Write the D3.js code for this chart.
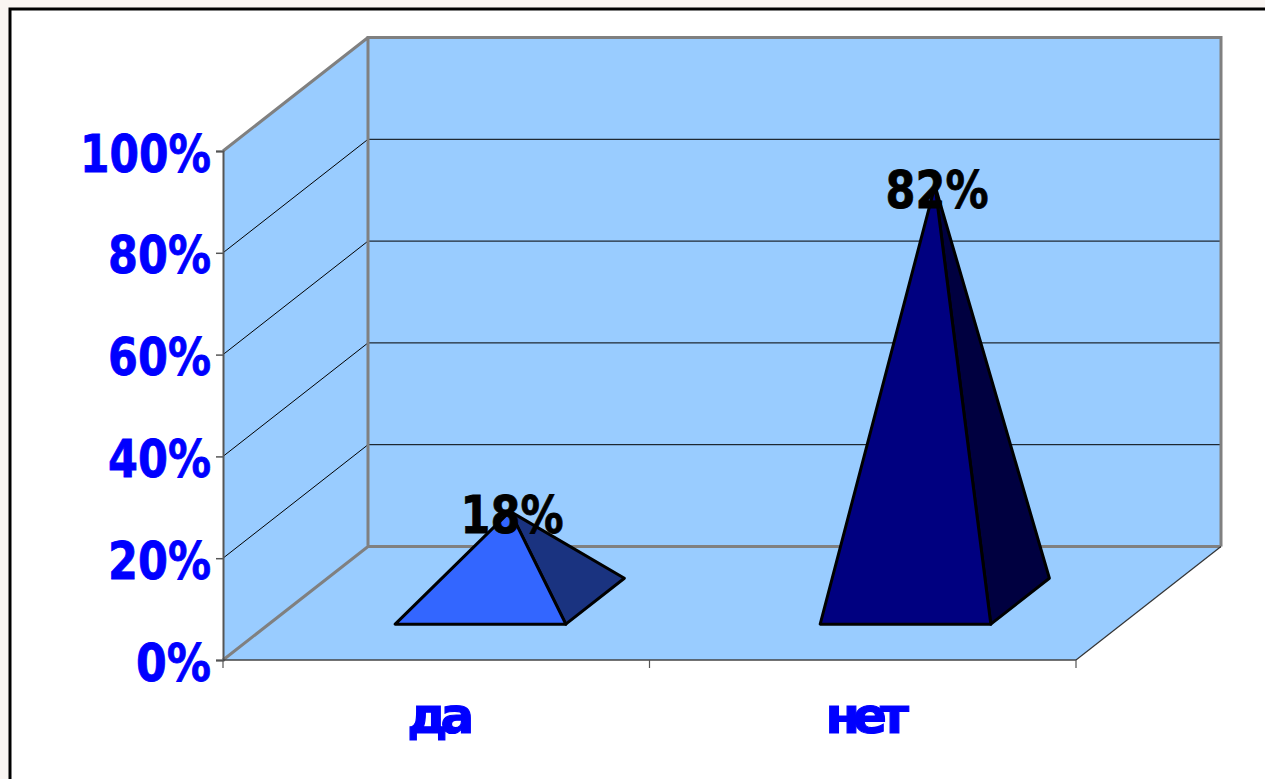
<!DOCTYPE html>
<html><head><meta charset="utf-8">
<script src="https://cdn.jsdelivr.net/npm/d3@7"></script>
<style>html,body{margin:0;padding:0;background:#f9f5f2;overflow:hidden}svg{display:block}</style>
</head><body><svg id="c" width="1265" height="779"></svg>
<script>
const categories = ["да", "нет"];
const shares = [18, 82];
const dataLabels = ["18%", "82%"];
const valueTicks = [0, 20, 40, 60, 80, 100];
const pyramidFront = ["#3366ff", "#000080"];
const pyramidSide = ["#1a3380", "#000040"];

const W = 1265, H = 779;
const svg = d3.select("#c");
const font = "'DejaVu Sans', sans-serif";
const dx = 145, dy = -113.5;
const x = d3.scaleBand().domain(categories).range([223, 1076]);
const baseX = d3.scalePoint().domain(categories).range([480.5, 905.5]);
const apexX = d3.scalePoint().domain(categories).range([510, 935]);
const y = d3.scaleLinear().domain([0, 100]).range([660, 151]);
const P = (px, py, d = 0) => [px + dx * d, py + dy * d];
const poly = pts => "M" + pts.map(p => p.join(",")).join("L") + "Z";

// bold label squeezed horizontally to the reference's narrow setting
function pct(sel, str) {
  sel.text(str).attr("font-family", font).attr("font-size", 52).attr("font-weight", "bold")
    .attr("textLength", (str.length - 1) * 28 + 47).attr("lengthAdjust", "spacingAndGlyphs")
    .attr("stroke", sel.attr("fill")).attr("stroke-width", 0.8);
}

svg.append("rect").attr("x", 10).attr("y", 9).attr("width", W).attr("height", H)
  .attr("fill", "#fff").attr("stroke", "#000").attr("stroke-width", 3);

const wallFill = "#99ccff", edge = "#808080";
const x0 = 223, x1 = 1076, y0 = y(0), y1 = y(100);
svg.append("path").attr("d", poly([P(x0,y0),P(x1,y0),P(x1,y0,1),P(x0,y0,1)])).attr("fill", wallFill);
svg.append("path").attr("d", poly([P(x0,y0),P(x0,y1),P(x0,y1,1),P(x0,y0,1)])).attr("fill", wallFill);
svg.append("path").attr("d", poly([P(x0,y0,1),P(x1,y0,1),P(x1,y1,1),P(x0,y1,1)])).attr("fill", wallFill);

valueTicks.filter(t => t > 0 && t < 100).forEach(t => {
  const a = P(x0, y(t)), b = P(x0, y(t), 1), c = P(x1, y(t), 1);
  svg.append("path").attr("d", `M${a}L${b}L${c}`).attr("fill", "none").attr("stroke", "#000").attr("stroke-width", 1);
});
svg.append("path").attr("d", `M${P(x0,y0,0)}L${P(x0,y0,1)}L${P(x1,y0,1)}M${P(x0,y0,1)}L${P(x0,y1,1)}L${P(x1,y1,1)}L${P(x1,y0,1)}M${P(x0,y1,0)}L${P(x0,y1,1)}`)
  .attr("fill", "none").attr("stroke", edge).attr("stroke-width", 3);
svg.append("path").attr("d", `M${P(x1,y0,0)}L${P(x1,y0,1)}`).attr("fill", "none").attr("stroke", "#333").attr("stroke-width", 1.2);

const axisY = d3.axisLeft(y).tickValues(valueTicks).tickFormat(d => d + "%").tickSize(7).tickPadding(5);
const gy = svg.append("g").attr("transform", `translate(${x0},0)`).call(axisY);
gy.selectAll(".domain").attr("stroke", "#555").attr("stroke-width", 2);
gy.selectAll("line").attr("stroke", "#555").attr("stroke-width", 1.5);
gy.selectAll("text").attr("fill", "#0000ff").attr("dy", 20).each(function (d) { pct(d3.select(this), d + "%"); });

const gx = svg.append("g");
gx.append("line").attr("x1", x0).attr("x2", x1).attr("y1", y0).attr("y2", y0).attr("stroke", "#444").attr("stroke-width", 1.5);
[x0, x0 + x.step(), x1].forEach(v => gx.append("line").attr("x1", v).attr("x2", v).attr("y1", y0).attr("y2", y0 + 8).attr("stroke", "#555").attr("stroke-width", 1.2));
categories.forEach(c => {
  gx.append("text").attr("x", x(c) + x.bandwidth()/2 + 1).attr("y", 733).attr("text-anchor", "middle")
    .attr("font-family", font).attr("font-weight", "bold").attr("font-size", 50).attr("letter-spacing", -7)
    .attr("stroke", "#0000ff").attr("stroke-width", 1.2).attr("fill", "#0000ff").text(c);
});

const halfBase = 0.2 * x.bandwidth(), baseFront = 0.316, baseBack = 0.72, apexLift = 57;
categories.forEach((c, i) => {
  const cx = baseX(c);
  const fl = [cx - halfBase, y0 + dy * baseFront], fr = [cx + halfBase, y0 + dy * baseFront];
  const br = [cx + halfBase + dx * (baseBack - baseFront), y0 + dy * baseBack];
  const apex = [apexX(c), y(shares[i]) - apexLift];
  const g = svg.append("g").attr("stroke", "#000").attr("stroke-width", 3).attr("stroke-linejoin", "round");
  g.append("path").attr("d", poly([fr, br, apex])).attr("fill", pyramidSide[i]);
  g.append("path").attr("d", poly([fl, fr, apex])).attr("fill", pyramidFront[i]);
  const t = svg.append("text").attr("x", apex[0] + 2).attr("y", apex[1] + 22).attr("text-anchor", "middle").attr("fill", "#000");
  pct(t, dataLabels[i]);
});
</script></body></html>
